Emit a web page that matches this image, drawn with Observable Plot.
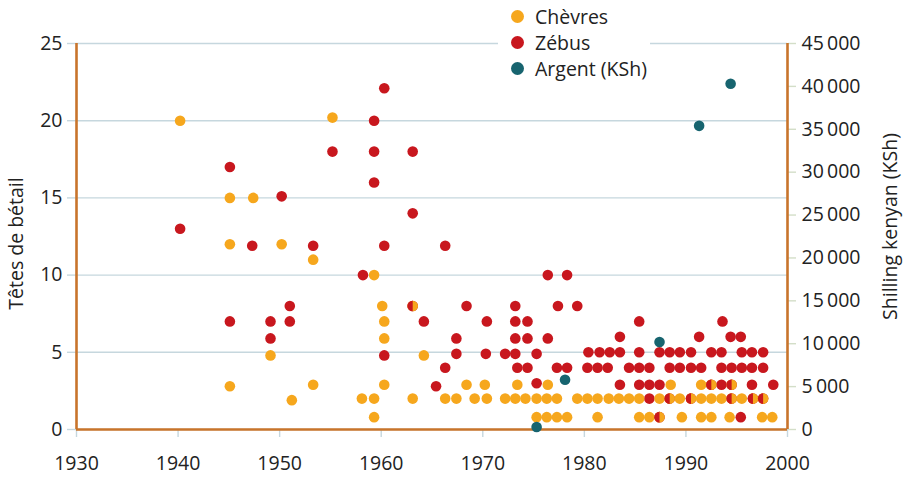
<!DOCTYPE html>
<html><head><meta charset="utf-8">
<script src="https://cdn.jsdelivr.net/npm/d3@7"></script>
<script src="https://cdn.jsdelivr.net/npm/@observablehq/plot@0.6"></script>
<style>
body{margin:0;background:#fff;font-family:"Open Sans","Noto Sans",sans-serif;}
#wrap{position:relative;width:907px;height:478px;}
#legend{position:absolute;left:498px;top:2px;width:152px;height:78px;background:#fff;}
#legend .it{position:absolute;left:13px;height:26px;display:flex;align-items:center;font-size:19.5px;color:#222;white-space:nowrap;}
#legend .sw{width:13px;height:13px;border-radius:50%;margin-right:11px;display:inline-block;}
</style></head><body><div id="wrap"><div id="chart"></div><div id="legend"></div></div>
<script>
// Chèvres (goats)
const goatYears = [1940.2,1955.2,1945.1,1947.4,1945.1,1950.2,1953.3,1959.3,1960.1,1960.3,1960.3,1949.1,1945.1,1953.3,1951.2,1958.1,1959.3,1959.3,1960.3,1963.1,1964.2,1968.4,1970.2,1973.4,1976.4,
  1963.1,1966.3,1967.4,1969.2,1970.4,1972.2,1973.2,1974.2,1975.3,1976.3,1977.3,1979.3,1980.3,1981.3,1982.4,1983.4,1984.4,1985.4,1987.4,1988.4,1989.4,1990.5,1991.5,1992.5,1993.5,1994.5,1995.5,1996.6,1997.6,
  1975.3,1976.3,1977.3,1978.3,1981.3,1985.4,1986.4,1987.4,1989.6,1991.5,1992.5,1994.3,1997.5,1998.5,
  1988.5,1991.5,1992.5,1994.5];
const goatHeads = [20.0,20.2,15.0,15.0,12.0,12.0,11.0,10.0,8.0,7.0,5.9,4.8,2.8,2.9,1.9,2.0,2.0,0.8,2.9,8.0,4.8,2.9,2.9,2.9,2.9,
  2.0,2.0,2.0,2.0,2.0,2.0,2.0,2.0,2.0,2.0,2.0,2.0,2.0,2.0,2.0,2.0,2.0,2.0,2.0,2.0,2.0,2.0,2.0,2.0,2.0,2.0,2.0,2.0,2.0,
  0.8,0.8,0.8,0.8,0.8,0.8,0.8,0.8,0.8,0.8,0.8,0.8,0.8,0.8,
  2.9,2.9,2.9,2.9];
// Zébus
const zebuYears = [1940.2,1945.1,1945.1,1947.3,1949.1,1949.1,1950.2,1951.0,1951.0,1953.3,1955.2,1958.2,1959.3,1959.3,1959.3,1960.3,1960.3,1960.3,
  1963.1,1963.1,1963.1,1964.2,1965.4,1966.3,1966.3,1967.4,1967.4,1968.4,1970.4,1970.3,1972.2,1973.2,1973.2,1973.2,1973.2,1973.4,1974.4,1974.4,1974.4,1975.3,1975.3,1976.4,1976.4,1977.4,1977.3,1978.3,1978.3,1979.3,
  1985.4,1993.6,1983.5,1991.3,1994.4,1995.4,
  1980.4,1981.5,1982.5,1983.5,1985.4,1987.4,1988.4,1989.4,1990.5,1992.5,1993.5,1995.5,1996.5,1997.6,
  1980.3,1981.3,1982.3,1984.4,1985.4,1986.4,1988.4,1989.4,1990.5,1991.5,1993.5,1994.5,1995.5,1996.5,1997.6,
  1983.5,1985.4,1986.4,1987.4,1992.5,1993.5,1994.5,1996.5,1998.6,
  1986.4,1988.4,1990.5,1994.5,1996.6,1997.6,
  1987.4,1995.4];
const zebuHeads = [13.0,17.0,7.0,11.9,7.0,5.9,15.1,8.0,7.0,11.9,18.0,10.0,20.0,18.0,16.0,22.1,11.9,4.8,
  18.0,14.0,8.0,7.0,2.8,11.9,4.0,5.9,4.9,8.0,7.0,4.9,4.9,8.0,7.0,5.9,4.9,4.0,7.0,5.9,4.0,4.9,3.0,10.0,5.9,8.0,4.0,10.0,4.0,8.0,
  7.0,7.0,6.0,6.0,6.0,6.0,
  5.0,5.0,5.0,5.0,5.0,5.0,5.0,5.0,5.0,5.0,5.0,5.0,5.0,5.0,
  4.0,4.0,4.0,4.0,4.0,4.0,4.0,4.0,4.0,4.0,4.0,4.0,4.0,4.0,4.0,
  2.9,2.9,2.9,2.9,2.9,2.9,2.9,2.9,2.9,
  2.0,2.0,2.0,2.0,2.0,2.0,
  0.8,0.8];
// Argent (KSh)
const cashYears = [1975.3,1978.1,1987.4,1991.3,1994.4];
const cashKSh = [300,5800,10200,35400,40300];

const seriesNames = ["Chèvres","Zébus","Argent (KSh)"];
const seriesColors = ["#f6a71d","#c8171e","#17646f"];
const xTicks = [1930,1940,1950,1960,1970,1980,1990,2000];
const yTicks = [0,5,10,15,20,25];
const kshTicks = [0,5000,10000,15000,20000,25000,30000,35000,40000,45000];
const yLabel = "Têtes de bétail";
const y2Label = "Shilling kenyan (KSh)";

const K = 45000 / 25;
const goats = goatYears.map((x,i)=>({x, y: goatHeads[i]}));
const zebus = zebuYears.map((x,i)=>({x, y: zebuHeads[i]}));
const cash = cashYears.map((x,i)=>({x, y: cashKSh[i] / K}));
const both = zebus.filter(z => goats.some(g => g.x === z.x && g.y === z.y));
const fmt = d3.formatLocale({decimal:",", thousands:"\u2009", grouping:[3]}).format(",");
const halfLeft = {draw(ctx, size){ const r = Math.sqrt(size/Math.PI); ctx.moveTo(0,-r); ctx.arc(0,0,r,-Math.PI/2,Math.PI/2,true); ctx.closePath(); }};
const frameColor = "#c8742b";
const gridColor = "#c6d7de";
const FS = 19.5;

const chart = Plot.plot({
  width: 907, height: 478,
  marginLeft: 76, marginRight: 120, marginTop: 43, marginBottom: 49,
  x: {domain: [1930, 2000]},
  y: {domain: [0, 25]},
  style: {fontFamily: "Open Sans, Noto Sans, sans-serif", fontSize: FS + "px", color: "#222", background: "white"},
  marks: [
    Plot.gridY(yTicks, {stroke: gridColor, strokeOpacity: 1, strokeWidth: 1.4}),
    Plot.axisY(yTicks, {anchor: "left", tickSize: 9, tickPadding: 5, stroke: gridColor, strokeOpacity: 1, strokeWidth: 1.4, fill: "#222", label: null, fontSize: FS}),
    Plot.axisX(xTicks, {anchor: "bottom", tickSize: 8, tickPadding: 19, stroke: gridColor, strokeOpacity: 1, strokeWidth: 1.4, fill: "#222", label: null, tickFormat: d => String(d), fontSize: FS}),
    Plot.axisY(kshTicks.map(v => v / K), {anchor: "right", tickSize: 8, tickPadding: 6, stroke: "#d3dec8", strokeOpacity: 1, strokeWidth: 1.4, fill: "#222", label: null, tickFormat: d => fmt(Math.round(d * K)), fontSize: FS}),
    Plot.ruleX([1930, 2000], {stroke: frameColor, strokeWidth: 2.6}),
    Plot.ruleY([0], {stroke: frameColor, strokeWidth: 2.6}),
    Plot.dot(zebus, {x: "x", y: "y", r: 5.3, fill: seriesColors[1]}),
    Plot.dot(goats, {x: "x", y: "y", r: 5.3, fill: seriesColors[0]}),
    Plot.dot(both, {x: "x", y: "y", r: 5.3, fill: seriesColors[1], symbol: halfLeft}),
    Plot.dot(cash, {x: "x", y: "y", r: 5.3, fill: seriesColors[2]}),
    Plot.text([yLabel], {text: d => d, frameAnchor: "left", textAnchor: "middle", dx: -60, dy: 7, rotate: -90, fontSize: FS, fill: "#222"}),
    Plot.text([y2Label], {text: d => d, frameAnchor: "right", textAnchor: "middle", dx: 103, dy: -10, rotate: -90, fontSize: FS, fill: "#222"})
  ]
});
document.getElementById("chart").appendChild(chart);

const leg = document.getElementById("legend");
seriesNames.forEach((n, i) => {
  const d = document.createElement("div");
  d.className = "it";
  d.style.top = (1 + i * 26.3) + "px";
  d.innerHTML = `<span class="sw" style="background:${seriesColors[i]}"></span><span>${n}</span>`;
  leg.appendChild(d);
});
</script></body></html>
